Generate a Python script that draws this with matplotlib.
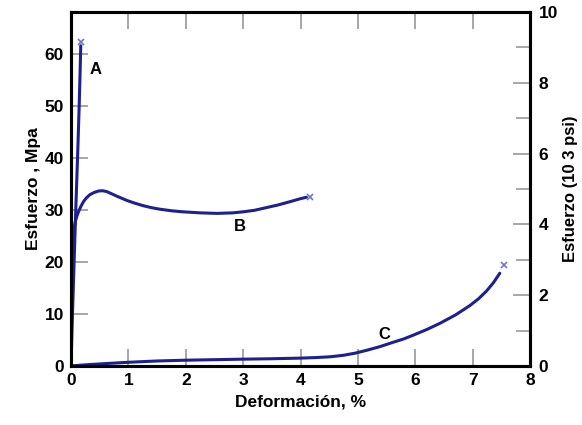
import matplotlib
matplotlib.use("Agg")
import matplotlib.pyplot as plt

plt.rcParams['font.family'] = ['Liberation Sans', 'DejaVu Sans']

# Stress-strain curves (strain %, stress MPa)
a_strain = [0.0, 0.02, 0.04, 0.06, 0.08, 0.10, 0.12, 0.14, 0.155, 0.17]
a_stress = [0.0, 8.0, 15.0, 22.0, 29.0, 35.5, 42.0, 49.0, 55.0, 61.5]
a_break = (0.18, 62.3)

b_strain = [0.0, 0.01, 0.015, 0.02, 0.04, 0.07, 0.10, 0.13, 0.17, 0.22, 0.27,
            0.33, 0.40, 0.48, 0.55, 0.62, 0.70, 0.80, 0.97, 1.10, 1.25, 1.40,
            1.55, 1.75, 1.95, 2.25, 2.55, 2.82, 3.00, 3.20, 3.40, 3.60, 3.80,
            3.99, 4.10]
b_stress = [0.0, 10.0, 18.0, 22.0, 25.5, 27.5, 28.7, 29.6, 30.6, 31.6, 32.3,
            32.9, 33.3, 33.6, 33.65, 33.5, 33.1, 32.6, 31.8, 31.3, 30.8, 30.4,
            30.1, 29.8, 29.6, 29.4, 29.3, 29.4, 29.6, 29.9, 30.4, 30.9, 31.5,
            32.1, 32.4]
b_break = (4.16, 32.5)

c_strain = [0.0, 0.3, 0.6, 1.0, 1.5, 2.0, 2.5, 3.0, 3.5, 4.0, 4.25, 4.51, 4.75,
            4.95, 5.15, 5.38, 5.60, 5.80, 5.96, 6.20, 6.43, 6.70, 6.95, 7.10,
            7.24, 7.36, 7.47]
c_stress = [0.0, 0.25, 0.45, 0.7, 0.95, 1.1, 1.2, 1.3, 1.38, 1.5, 1.6, 1.75,
            2.05, 2.45, 3.0, 3.7, 4.5, 5.2, 5.9, 7.0, 8.2, 9.8, 11.6, 12.9,
            14.4, 16.0, 17.8]
c_break = (7.54, 19.4)

labels = [("A", 0.43, 57.0), ("B", 2.95, 26.8), ("C", 5.45, 6.0)]

x_ticks = [0, 1, 2, 3, 4, 5, 6, 7, 8]
y_ticks = [0, 10, 20, 30, 40, 50, 60]
psi_major = [0, 2, 4, 6, 8, 10]
psi_minor = [1, 3, 5, 7, 9]

line_color = "#1f1f8f"
mark_color = "#6f74c8"
tick_color = "#a0a0a0"

fig = plt.figure(figsize=(5.82, 4.25), dpi=100)
ax = fig.add_axes([0.122, 0.139, 0.789, 0.833])

for xs, ys, brk in [(a_strain, a_stress, a_break),
                    (b_strain, b_stress, b_break),
                    (c_strain, c_stress, c_break)]:
    ax.plot(xs, ys, color=line_color, lw=2.2, solid_capstyle='round',
            solid_joinstyle='round')
    ax.plot([brk[0]], [brk[1]], marker='x', color=mark_color, ms=4, mew=1.2)

for txt, x, y in labels:
    ax.text(x, y, txt, fontsize=12, fontweight='bold', ha='center', va='center')

ax.set_xlim(0, 8)
ax.set_ylim(0, 68)
ax.set_xticks(x_ticks)
ax.set_yticks(y_ticks)
ax.tick_params(axis='both', direction='in', length=12, width=1.3,
               color=tick_color, labelsize=12.5, pad=5)
ax.tick_params(axis='x', top=True)
for lab in ax.get_xticklabels() + ax.get_yticklabels():
    lab.set_fontweight('bold')
for sp in ax.spines.values():
    sp.set_linewidth(2.2)
    sp.set_color('black')

ax.set_xlabel("Deformación, %", fontsize=12.5, fontweight='bold', labelpad=5)
ax.set_ylabel("Esfuerzo , Mpa", fontsize=12.5, fontweight='bold', labelpad=3)

ax2 = ax.twinx()
ax2.set_ylim(0, 10)
ax2.set_yticks(psi_major)
ax2.set_yticks(psi_minor, minor=True)
ax2.tick_params(axis='y', which='major', direction='in', length=12, width=1.3,
                color=tick_color, labelsize=12.5, pad=6)
ax2.tick_params(axis='y', which='minor', direction='in', length=10, width=1.3,
                color=tick_color)
for lab in ax2.get_yticklabels():
    lab.set_fontweight('bold')
for sp in ax2.spines.values():
    sp.set_linewidth(2.2)
ax2.set_ylabel("Esfuerzo (10 3 psi)", fontsize=12, fontweight='bold',
               labelpad=4)

fig.savefig("out.png", dpi=100)
